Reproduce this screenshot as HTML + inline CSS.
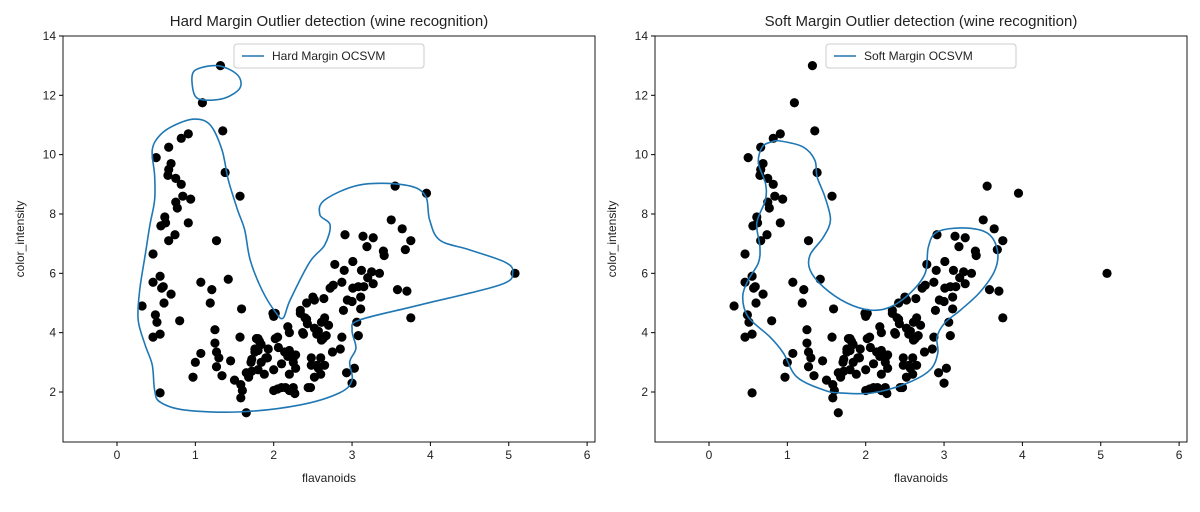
<!DOCTYPE html>
<html><head><meta charset="utf-8"><style>
body{margin:0;background:#fff;}
svg text{font-family:"Liberation Sans","DejaVu Sans",sans-serif;fill:#222;}
</style></head><body>
<svg id="c" width="1200" height="507" xmlns="http://www.w3.org/2000/svg"></svg>
<script>
const flav=[1.32,1.09,1.35,0.91,0.82,0.66,0.5,0.69,0.66,0.65,0.75,0.82,1.38,0.84,0.94,1.57,0.75,0.77,0.61,0.56,0.62,0.91,0.74,0.66,1.27,0.46,0.55,0.46,0.59,0.57,1.07,1.42,1.21,0.69,1.19,0.6,0.32,1.59,0.49,0.51,0.8,0.46,0.55,1.25,1.57,1.25,1.07,1.0,1.27,1.3,1.45,1.27,1.34,0.97,1.5,1.58,1.6,1.58,1.65,0.55,1.78,1.82,2.02,1.76,1.8,1.93,1.71,1.65,1.68,1.72,1.8,1.84,1.9,2.14,2.18,2.25,2.18,1.99,2.0,2.0,1.88,2.2,2.0,2.15,2.27,2.05,2.34,2.37,2.42,2.48,2.55,2.6,2.52,2.44,
3.55,3.95,3.5,3.64,3.75,3.68,2.91,3.14,3.27,3.19,3.4,3.41,3.01,2.78,2.9,3.12,3.25,3.35,3.2,3.27,2.87,3.08,3.01,3.15,2.76,2.72,3.58,3.7,2.94,3.0,3.11,2.5,2.64,2.42,2.52,2.89,3.11,2.34,2.02,3.75,3.06,2.65,2.61,2.7,2.4,2.43,2.52,2.57,3.08,2.2,2.38,2.55,2.67,2.87,2.61,2.63,1.8,2.05,1.76,1.84,2.06,2.2,2.28,2.75,2.85,1.72,1.92,2.1,2.25,2.48,2.6,2.65,2.28,2.57,2.93,3.03,3.0,2.1,2.2,2.25,2.47,5.08];
const color=[13.0,11.75,10.8,10.7,10.55,10.25,9.9,9.7,9.5,9.3,9.2,9.0,9.4,8.6,8.5,8.6,8.4,8.2,7.9,7.6,7.7,7.7,7.3,7.1,7.1,6.65,5.9,5.7,5.55,5.5,5.7,5.8,5.45,5.3,5.0,5.0,4.9,4.8,4.6,4.35,4.4,3.85,3.95,4.1,3.85,3.65,3.3,3.0,3.35,3.15,3.05,2.85,2.55,2.5,2.4,2.25,2.05,1.8,1.3,1.97,3.8,3.7,3.8,3.35,3.4,3.45,3.0,2.65,2.5,2.7,2.75,3.0,3.15,3.35,3.2,3.0,4.2,4.65,4.55,2.75,2.6,2.6,2.05,2.15,1.95,2.1,4.65,4.0,4.45,2.9,2.9,2.6,2.5,2.15,
8.94,8.7,7.8,7.5,7.1,6.8,7.3,7.25,7.2,6.9,6.75,6.6,6.4,6.3,6.1,6.1,6.05,6.0,5.85,5.65,5.7,5.55,5.5,5.55,5.6,5.5,5.45,5.4,5.1,5.05,5.2,5.2,5.15,5.0,5.1,4.75,4.8,4.75,4.65,4.5,4.35,4.5,4.35,4.25,4.5,4.3,4.15,4.05,3.9,4.0,3.95,3.95,3.9,3.85,3.75,3.8,3.8,3.85,3.45,3.6,3.5,3.4,3.25,3.35,3.45,3.1,3.15,2.95,3.15,3.15,3.15,2.9,2.8,2.8,2.65,2.8,2.3,2.15,2.05,2.15,2.15,6.0];
const xTicks=[0,1,2,3,4,5,6];
const yTicks=[2,4,6,8,10,12,14];
const hardMainX=[0.48,0.55,0.87,1.57,2.33,2.84,3.0,2.97,3.05,3.0,3.1,3.86,4.89,5.05,4.95,4.5,4.12,3.99,3.93,3.67,3.1,2.65,2.59,2.72,2.65,2.46,2.21,2.12,2.02,1.85,1.7,1.63,1.54,1.42,1.34,1.19,0.99,0.74,0.55,0.45,0.48,0.48,0.42,0.36,0.29,0.27,0.36,0.45];
const hardMainY=[2.07,1.66,1.39,1.33,1.56,1.97,2.4,3.01,3.48,4.09,4.43,4.93,5.61,6.04,6.38,6.79,7.12,7.8,8.64,8.98,8.98,8.47,7.97,7.63,6.95,6.38,5.1,4.49,4.7,5.44,6.45,7.46,8.13,9.15,10.16,11.0,11.2,11.0,10.66,10.16,9.31,8.47,7.63,6.62,5.44,4.43,3.58,2.91];
const hardLoopX=[0.96,0.99,1.12,1.38,1.57,1.54,1.31,1.06];
const hardLoopY=[12.68,12.01,11.84,11.91,12.25,12.68,12.99,12.92];
const softX=[0.91,1.2,1.35,1.38,1.48,1.55,1.46,1.29,1.29,1.46,1.76,2.06,2.31,2.57,2.76,2.8,2.91,3.24,3.55,3.68,3.65,3.46,3.21,3.01,2.91,2.92,2.82,2.53,2.09,1.67,1.46,1.12,0.95,0.78,0.5,0.43,0.5,0.63,0.65,0.61,0.72,0.72,0.63,0.68,0.8];
const softY=[10.46,10.26,9.82,9.25,8.57,7.8,7.22,6.62,6.11,5.54,5.0,4.76,4.86,5.34,6.01,6.89,7.39,7.53,7.36,6.79,6.11,5.37,4.76,4.33,3.85,3.31,2.74,2.3,1.97,1.97,2.07,2.51,3.31,3.85,4.53,5.2,5.77,6.35,6.89,7.7,8.47,9.04,9.72,10.26,10.43];

const NS="http://www.w3.org/2000/svg";
const svg=document.getElementById('c');
function mk(t,a,p){const e=document.createElementNS(NS,t);for(const k in a)e.setAttribute(k,a[k]);(p||svg).appendChild(e);return e;}
function smooth(xs,ys,sx,sy){const n=xs.length;const P=xs.map((x,i)=>[sx(x),sy(ys[i])]);let d=`M${P[0][0]},${P[0][1]}`;
 for(let i=0;i<n;i++){const p0=P[(i-1+n)%n],p1=P[i],p2=P[(i+1)%n],p3=P[(i+2)%n];
 d+=`C${p1[0]+(p2[0]-p0[0])/6},${p1[1]+(p2[1]-p0[1])/6} ${p2[0]-(p3[0]-p1[0])/6},${p2[1]-(p3[1]-p1[1])/6} ${p2[0]},${p2[1]}`;}
 return d+'Z';}
function panel(L,title,legendText,contours,name){
 const R=L+532,T=36,B=442;
 const sx=v=>L+54+(v)*78.35, sy=v=>392-(v-2)*29.67;
 const g=mk('g',{});
 
 
 const t=mk('text',{x:(L+R)/2,y:26,'text-anchor':'middle','font-size':15},g);t.textContent=title;
 
 for(let i=0;i<flav.length;i++){const c=mk('circle',{cx:sx(flav[i]),cy:sy(color[i]),r:4.6,fill:'#000'},g);
  }
 contours.forEach(([xs,ys])=>{const p=mk('path',{d:smooth(xs,ys,sx,sy),fill:'none',stroke:'#1f77b4','stroke-width':1.6},g);
  });
 const ax=mk('rect',{x:L,y:T,width:R-L,height:B-T,fill:'none',stroke:'#000','stroke-width':0.9},g);
 
 xTicks.forEach(v=>{const x=sx(v);mk('line',{x1:x,x2:x,y1:B,y2:B+4,stroke:'#000'},g);
  const tx=mk('text',{x:x,y:B+17,'text-anchor':'middle','font-size':12},g);tx.textContent=v;
  });
 yTicks.forEach(v=>{const y=sy(v);mk('line',{x1:L-4,x2:L,y1:y,y2:y,stroke:'#000'},g);
  const ty=mk('text',{x:L-7,y:y+4,'text-anchor':'end','font-size':12},g);ty.textContent=v;
  });
 const xl=mk('text',{x:(L+R)/2,y:482,'text-anchor':'middle','font-size':12},g);xl.textContent='flavanoids';
 
 const yl=mk('text',{x:0,y:0,'text-anchor':'middle','font-size':12,transform:`translate(${L-39},239) rotate(-90)`},g);yl.textContent='color_intensity';
 
 const lw=190, lx=(L+R)/2-lw/2;
 const lg=mk('g',{},g);
 
 mk('rect',{x:lx,y:44,width:lw,height:24,rx:3,fill:'#fff','fill-opacity':0.8,stroke:'#ccc'},lg);
 mk('line',{x1:lx+8,x2:lx+30,y1:56,y2:56,stroke:'#1f77b4','stroke-width':1.6},lg);
 const lt=mk('text',{x:lx+38,y:60,'font-size':12},lg);lt.textContent=legendText;
 
}
panel(63,'Hard Margin Outlier detection (wine recognition)','Hard Margin OCSVM',[[hardMainX,hardMainY],[hardLoopX,hardLoopY]],'hard-margin-panel');
panel(655,'Soft Margin Outlier detection (wine recognition)','Soft Margin OCSVM',[[softX,softY]],'soft-margin-panel');
</script>
</body></html>
